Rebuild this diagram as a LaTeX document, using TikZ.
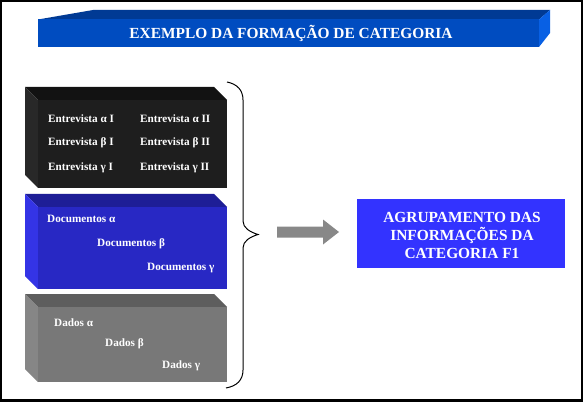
\documentclass[tikz,border=0pt]{standalone}
\usepackage{fontspec}
\setmainfont{Liberation Serif}
\definecolor{titlefront}{RGB}{0,76,192}
\definecolor{titletop}{RGB}{0,58,148}
\definecolor{titleside}{RGB}{8,96,228}
\definecolor{blkfront}{RGB}{30,30,30}
\definecolor{blktop}{RGB}{18,18,18}
\definecolor{blkside}{RGB}{40,40,40}
\definecolor{bluefront}{RGB}{40,40,196}
\definecolor{bluetop}{RGB}{30,30,150}
\definecolor{blueside}{RGB}{52,52,230}
\definecolor{grayfront}{RGB}{120,120,120}
\definecolor{graytop}{RGB}{94,94,94}
\definecolor{grayside}{RGB}{134,134,134}
\definecolor{resultblue}{RGB}{51,51,255}
\definecolor{arrowgray}{RGB}{136,136,136}
\begin{document}
\begin{tikzpicture}[x=1pt,y=-1pt,
  itemtext/.style={text=white,font=\fontsize{11.2}{13}\selectfont\bfseries,anchor=west,inner sep=0pt},
  bigtext/.style={text=white,font=\fontsize{15.4}{18}\selectfont\bfseries,align=center,inner sep=0pt}]
\useasboundingbox (0,0) rectangle (585,403);
\fill[white] (0,0) rectangle (585,403);
\draw[line width=2pt] (1,1) rectangle (582,400.5);
\draw[line width=3pt] (0,400.5) -- (583,400.5);
% title bar
\fill[titletop] (38,19.5) -- (93,10) -- (550,10) -- (539,19.5) -- cycle;
\fill[titleside] (539,19.5) -- (550,10) -- (550,33) -- (539,47) -- cycle;
\fill[titlefront] (38,19.5) rectangle (539,47);
\node[bigtext] (title) at (291,33.5) {EXEMPLO DA FORMAÇÃO DE CATEGORIA};
% black box
\fill[blktop] (25,87) -- (214,87) -- (227,100) -- (38,100) -- cycle;
\fill[blkside] (25,87) -- (38,100) -- (38,188) -- (25,175) -- cycle;
\fill[blkfront] (38,100) rectangle (227,188);
\node[itemtext] (e1) at (48,119) {Entrevista α I};
\node[itemtext] (e2) at (140,119) {Entrevista α II};
\node[itemtext] (e3) at (48,143) {Entrevista β I};
\node[itemtext] (e4) at (140,143) {Entrevista β II};
\node[itemtext] (e5) at (48,168) {Entrevista γ I};
\node[itemtext] (e6) at (140,168) {Entrevista γ II};
% blue box
\fill[bluetop] (25,194) -- (214,194) -- (227,207) -- (38,207) -- cycle;
\fill[blueside] (25,194) -- (38,207) -- (38,289) -- (25,276) -- cycle;
\fill[bluefront] (38,207) rectangle (227,289);
\node[itemtext] (d1) at (47,219) {Documentos α};
\node[itemtext] (d2) at (97,244) {Documentos β};
\node[itemtext] (d3) at (147,268) {Documentos γ};
% gray box
\fill[graytop] (25,294) -- (214,294) -- (227,307) -- (38,307) -- cycle;
\fill[grayside] (25,294) -- (38,307) -- (38,382) -- (25,369) -- cycle;
\fill[grayfront] (38,307) rectangle (227,382);
\node[itemtext] (g1) at (54,323) {Dados α};
\node[itemtext] (g2) at (105,344) {Dados β};
\node[itemtext] (g3) at (162,366) {Dados γ};
% brace
\draw[line width=1pt] (227,82) .. controls (237,84) and (243,90) .. (243,100) -- (243,221)
  .. controls (243,228) and (250,232) .. (258,234.5)
  .. controls (250,237) and (243,241) .. (243,248) -- (243,370)
  .. controls (243,380) and (237,386) .. (226,388);
% arrow
\fill[arrowgray] (277,226.5) -- (323,226.5) -- (323,219.5) -- (339,232) -- (323,244.5) -- (323,237.5) -- (277,237.5) -- cycle;
% result box
\fill[resultblue] (357,199) rectangle (565,268);
\node[bigtext] (result) at (462,235) {AGRUPAMENTO DAS\\INFORMAÇÕES DA\\CATEGORIA F1};
\end{tikzpicture}
\end{document}
